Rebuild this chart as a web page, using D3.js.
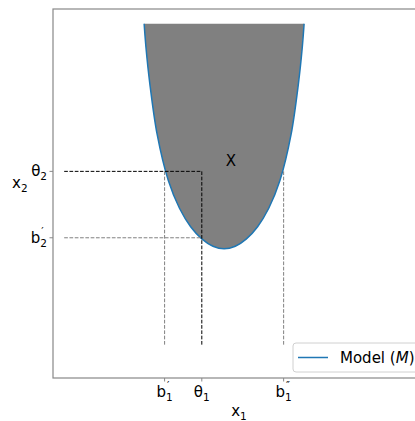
<!DOCTYPE html>
<html>
<head>
<meta charset="utf-8">
<script src="https://cdn.jsdelivr.net/npm/d3@7"></script>
<style>
  body { margin: 0; background: #fff; }
  svg { display: block; font-family: "DejaVu Sans", sans-serif; }
</style>
</head>
<body>
<svg width="415" height="421"></svg>
<script>
// model boundary
const curveX1 = [2.45, 2.5, 2.6, 2.8, 3.1, 3.4, 3.7, 4.0, 4.3, 4.6, 4.9, 5.2, 5.5, 5.8, 6.1, 6.4, 6.6, 6.7, 6.75];
const curveX2 = [9.6, 8.95, 8.0, 6.6, 5.35, 4.6, 4.1, 3.77, 3.57, 3.5, 3.57, 3.77, 4.1, 4.6, 5.35, 6.6, 8.0, 8.95, 9.6];
const fillTop = 9.6;

// special points
const theta = [4.0, 5.6];       // X = (theta1, theta2)
const b1 = [3.0, 6.2];          // b1', b1''
const b2 = 3.8;                 // b2'
const lineStart = 0.3;          // left end of the horizontal guides
const lineEnd = 0.9;            // lower end of the vertical guides

const xTicks = [
    { v: b1[0], main: "b", sub: "1", sup: "′" },
    { v: theta[0], main: "θ", sub: "1", sup: "" },
    { v: b1[1], main: "b", sub: "1", sup: "″" }
];
const yTicks = [
    { v: theta[1], main: "θ", sub: "2", sup: "" },
    { v: b2, main: "b", sub: "2", sup: "′" }
];

const svg = d3.select("svg");
const area = { left: 53, top: 9, right: 425, bottom: 378 };

const scX = d3.scaleLinear().domain([0, 10]).range([area.left, area.right]);
const scY = d3.scaleLinear().domain([0, 10]).range([area.bottom, area.top]);

const pts = curveX1.map((x, i) => [x, curveX2[i]]);

// filled region above the curve
svg.append("path")
    .datum(pts)
    .attr("d", d3.area()
        .x(d => scX(d[0]))
        .y0(scY(fillTop))
        .y1(d => scY(d[1]))
        .curve(d3.curveCatmullRom))
    .style("fill", "#808080");

svg.append("path")
    .datum(pts)
    .attr("d", d3.line()
        .x(d => scX(d[0]))
        .y(d => scY(d[1]))
        .curve(d3.curveCatmullRom))
    .style("fill", "none")
    .style("stroke", "#1f77b4")
    .style("stroke-width", 1.5);

// guide lines
function guide(x1, y1, x2, y2, color) {
    svg.append("line")
        .attr("x1", scX(x1)).attr("y1", scY(y1))
        .attr("x2", scX(x2)).attr("y2", scY(y2))
        .style("stroke", color)
        .style("stroke-width", 1)
        .style("stroke-dasharray", "3.7,1.6");
}
guide(lineStart, theta[1], theta[0], theta[1], "#000");
guide(theta[0], theta[1], theta[0], lineEnd, "#000");
guide(lineStart, b2, theta[0], b2, "#808080");
guide(b1[0], theta[1], b1[0], lineEnd, "#808080");
guide(b1[1], theta[1], b1[1], lineEnd, "#808080");

svg.append("text")
    .attr("x", scX(theta[0]) + 24)
    .attr("y", scY(theta[1]) - 5)
    .style("font-size", "15px")
    .text("X");

// axes frame
const spine = "#888";
svg.append("rect")
    .attr("x", area.left).attr("y", area.top)
    .attr("width", area.right - area.left)
    .attr("height", area.bottom - area.top)
    .style("fill", "none")
    .style("stroke", spine)
    .style("stroke-width", 1.2);

// label with subscript and superscript stacked
function mathLabel(g, t) {
    const main = g.append("text").style("font-size", "15px").text(t.main);
    const w = main.node().getComputedTextLength();
    g.append("text").attr("x", w).attr("y", 4)
        .style("font-size", "10.5px").text(t.sub);
    if (t.sup)
        g.append("text").attr("x", w + 1).attr("y", -8)
            .style("font-size", "10.5px").text(t.sup);
    return g.node().getBBox();
}

xTicks.forEach(t => {
    const x = scX(t.v);
    svg.append("line")
        .attr("x1", x).attr("x2", x)
        .attr("y1", area.bottom).attr("y2", area.bottom + 3.5)
        .style("stroke", spine);
    const g = svg.append("g");
    const bb = mathLabel(g, t);
    g.attr("transform", `translate(${x - bb.width / 2}, ${area.bottom + 19})`);
});

yTicks.forEach(t => {
    const y = scY(t.v);
    svg.append("line")
        .attr("x1", area.left - 3.5).attr("x2", area.left)
        .attr("y1", y).attr("y2", y)
        .style("stroke", spine);
    const g = svg.append("g");
    const bb = mathLabel(g, t);
    g.attr("transform", `translate(${area.left - 6 - bb.width}, ${y + 5})`);
});

// axis titles
const xl = svg.append("g");
const xlb = mathLabel(xl, { main: "x", sub: "1", sup: "" });
xl.attr("transform", `translate(${(area.left + area.right) / 2 - xlb.width / 2}, 416)`);

const yl = svg.append("g");
mathLabel(yl, { main: "x", sub: "2", sup: "" });
yl.attr("transform", "translate(12, 188)");

// legend
const leg = svg.append("g").attr("transform", "translate(293, 343)");
leg.append("rect")
    .attr("width", 130).attr("height", 29)
    .attr("rx", 3)
    .style("fill", "rgba(255,255,255,0.8)")
    .style("stroke", "#d0d0d0");
leg.append("line")
    .attr("x1", 5).attr("x2", 35)
    .attr("y1", 14.5).attr("y2", 14.5)
    .style("stroke", "#1f77b4")
    .style("stroke-width", 1.5);
const lt = leg.append("text").attr("x", 47).attr("y", 20).style("font-size", "15px");
lt.append("tspan").text("Model (");
lt.append("tspan").style("font-style", "italic").text("M");
lt.append("tspan").text(")");
</script>
</body>
</html>
